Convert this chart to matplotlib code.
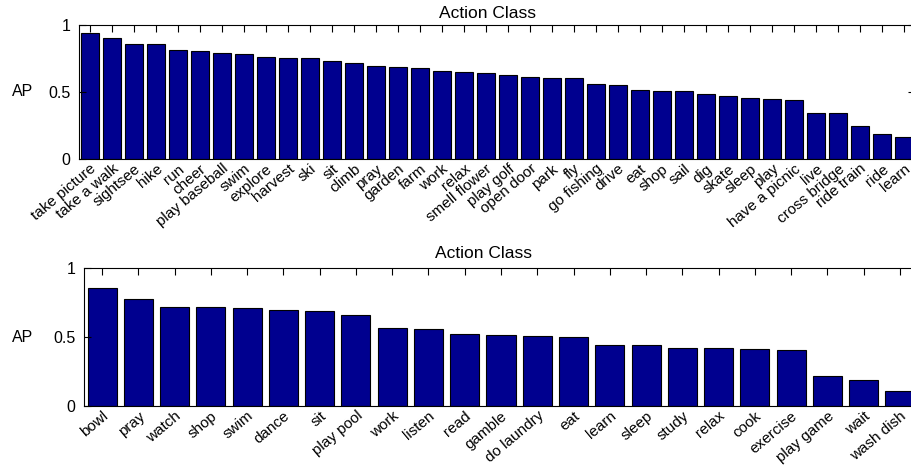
import numpy as np
import matplotlib.pyplot as plt

plt.rcParams['font.family'] = ['Liberation Sans', 'DejaVu Sans']

top_labels = ["take picture", "take a walk", "sightsee", "hike", "run", "cheer",
              "play baseball", "swim", "explore", "harvest", "ski", "sit", "climb",
              "pray", "garden", "farm", "work", "relax", "smell flower", "play golf",
              "open door", "park", "fly", "go fishing", "drive", "eat", "shop", "sail",
              "dig", "skate", "sleep", "play", "have a picnic", "live", "cross bridge",
              "ride train", "ride", "learn"]
top_ap = [0.943, 0.905, 0.858, 0.858, 0.816, 0.804, 0.793, 0.784, 0.761, 0.756,
          0.754, 0.731, 0.719, 0.694, 0.684, 0.677, 0.659, 0.649, 0.642, 0.625,
          0.612, 0.604, 0.602, 0.562, 0.555, 0.513, 0.510, 0.505, 0.483, 0.468,
          0.453, 0.445, 0.438, 0.343, 0.343, 0.244, 0.189, 0.164]

bottom_labels = ["bowl", "pray", "watch", "shop", "swim", "dance", "sit", "play pool",
                 "work", "listen", "read", "gamble", "do laundry", "eat", "learn",
                 "sleep", "study", "relax", "cook", "exercise", "play game", "wait",
                 "wash dish"]
bottom_ap = [0.855, 0.778, 0.717, 0.717, 0.708, 0.698, 0.686, 0.657, 0.565, 0.560,
             0.524, 0.512, 0.510, 0.500, 0.442, 0.440, 0.420, 0.420, 0.413, 0.406,
             0.215, 0.188, 0.111]

bar_color = "#00008f"
fs = 11.5


def ap_bars(ax, labels, values, ylab_x):
    x = np.arange(1, len(values) + 1)
    ax.bar(x, values, width=0.8, color=bar_color, edgecolor="black", linewidth=0.8)
    ax.set_xlim(0.5, len(values) + 0.5)
    ax.set_ylim(0, 1)
    ax.set_xticks(x)
    ax.set_xticklabels(labels, rotation=40, ha="right", va="top",
                       rotation_mode="anchor", fontsize=11)
    ax.set_yticks([0, 0.5, 1])
    ax.set_yticklabels(["0", "0.5", "1"], fontsize=fs)
    ax.tick_params(axis="x", bottom=False, top=True, labelbottom=True,
                   direction="in", length=5, width=0.8, pad=2)
    ax.tick_params(axis="y", left=True, right=True, direction="in",
                   length=5, width=0.8, pad=6)
    ax.set_ylabel("AP", rotation=0, fontsize=fs, ha="center", va="center")
    ax.yaxis.set_label_coords(ylab_x, 0.5)
    for s in ax.spines.values():
        s.set_linewidth(0.8)


fig = plt.figure(figsize=(9.12, 4.68), dpi=100)

ax1 = fig.add_axes([79 / 912, 1 - 159 / 468, 836 / 912, 134 / 468])
ap_bars(ax1, top_labels, top_ap, -0.067)
fig.text(488 / 912, 1 - 13 / 468, "Action Class", ha="center", va="center", fontsize=12.5)

ax2 = fig.add_axes([84 / 912, 1 - 406 / 468, 834 / 912, 138 / 468])
ap_bars(ax2, bottom_labels, bottom_ap, -0.0735)
fig.text(484 / 912, 1 - 253 / 468, "Action Class", ha="center", va="center", fontsize=12.5)

fig.savefig("out.png", dpi=100)
